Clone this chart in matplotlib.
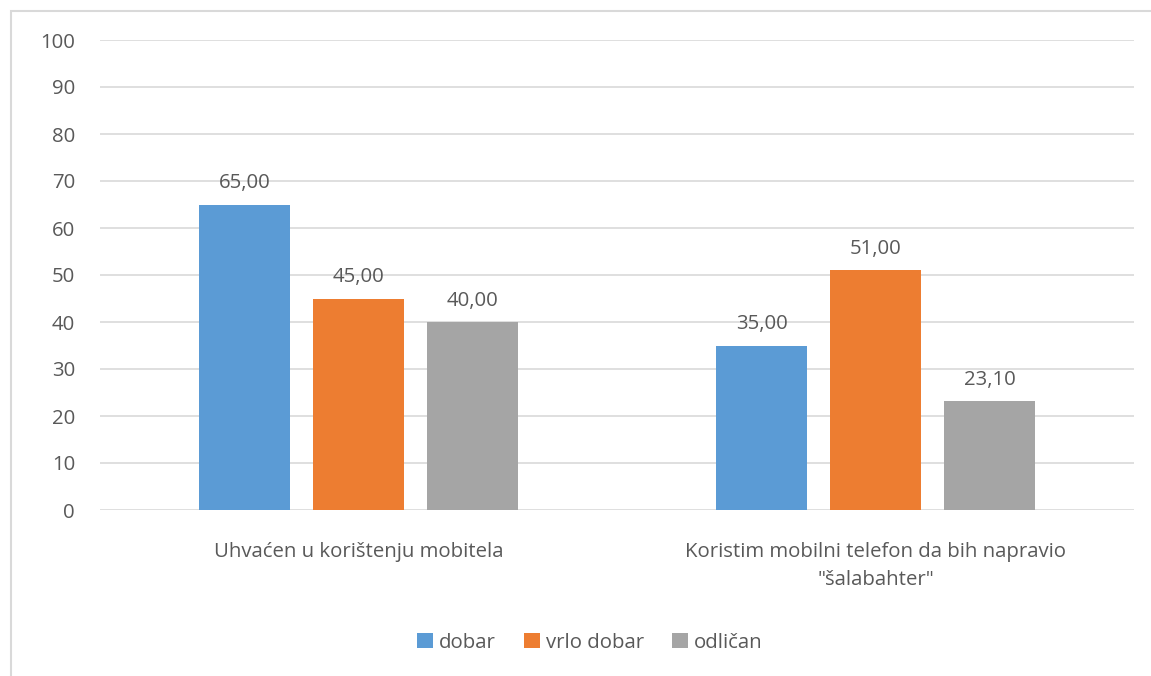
import matplotlib.pyplot as plt
import numpy as np
from matplotlib.patches import Rectangle

categories = ["Uhvaćen u korištenju mobitela",
              "Koristim mobilni telefon da bih napravio\n\"šalabahter\""]
series = ["dobar", "vrlo dobar", "odličan"]
dobar = [65.00, 35.00]
vrlo_dobar = [45.00, 51.00]
odlican = [40.00, 23.10]
colors = ["#5B9BD5", "#ED7D31", "#A5A5A5"]

plt.rcParams['font.family'] = ['Open Sans', 'DejaVu Sans']
txt = "#595959"
fs = 14.7

fig = plt.figure(figsize=(11.51, 6.76), dpi=100)
ax = fig.add_axes([100 / 1151, (676 - 510) / 676, 1034 / 1151, 470 / 676])

x = np.arange(len(categories))
width = 0.176
step = 0.2205
for i, (vals, name, c) in enumerate(zip([dobar, vrlo_dobar, odlican], series, colors)):
    pos = x + (i - 1) * step
    bars = ax.bar(pos, vals, width, color=c, label=name, zorder=3)
    for b, v in zip(bars, vals):
        ax.annotate(f"{v:.2f}".replace(".", ","), (b.get_x() + b.get_width() / 2, v),
                    xytext=(0, 8), textcoords="offset points", ha="center", va="bottom",
                    fontsize=fs, color=txt)

ax.set_xlim(-0.5, 1.5)
ax.set_ylim(0, 100)
ax.set_yticks(range(0, 101, 10))
ax.set_xticks(x)
ax.set_xticklabels(categories, linespacing=1.55)
ax.tick_params(axis='both', length=0, labelsize=fs, labelcolor=txt)
ax.tick_params(axis='y', pad=18)
ax.tick_params(axis='x', pad=23)
ax.yaxis.grid(True, color="#D9D9D9", linewidth=1.2, zorder=0)
for s in ax.spines.values():
    s.set_visible(False)

leg = fig.legend(loc="center", bbox_to_anchor=(590 / 1151, (676 - 643) / 676), ncol=3,
                 frameon=False, fontsize=fs, handlelength=0.75, handleheight=0.75,
                 handletextpad=0.3, columnspacing=1.4)
for t in leg.get_texts():
    t.set_color(txt)

# chart border (clipped on right and bottom like the reference)
fig.patches.append(Rectangle((10.5 / 1151, -0.1), 1.2, (676 - 10.5) / 676 + 0.1,
                             transform=fig.transFigure, fill=False,
                             edgecolor="#D9D9D9", linewidth=1.5))

fig.savefig("out.png", dpi=100)
